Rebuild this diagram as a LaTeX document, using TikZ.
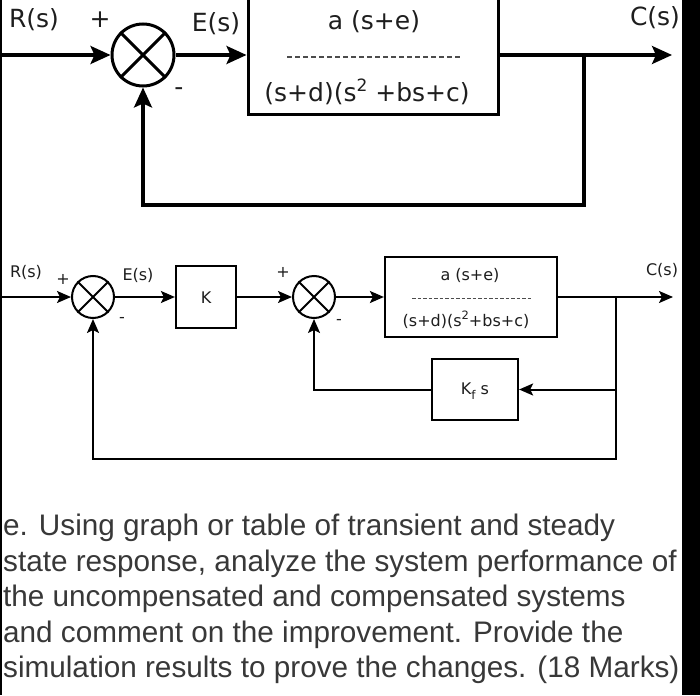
\documentclass[tikz,border=0pt]{standalone}
\usepackage{fontspec}
\setmainfont{DejaVu Sans}
\newfontfamily\qfont{Liberation Sans}
\usetikzlibrary{arrows.meta}
\definecolor{qtext}{HTML}{383838}
\definecolor{lab}{HTML}{1E1E1E}
\tikzset{
  bigsum/.style={circle, draw, line width=3pt, minimum size=62pt, inner sep=0pt},
  smallsum/.style={circle, draw, line width=2pt, minimum size=42pt, inner sep=0pt},
  bigwire/.style={line width=3.2pt, -{Stealth[length=20pt,width=18pt,inset=4pt]}},
  smallwire/.style={line width=2pt, -{Stealth[length=14pt,width=12pt,inset=3pt]}},
  bigbox/.style={draw, line width=3pt, inner sep=0pt},
  smallbox/.style={draw, line width=2.2pt, inner sep=0pt},
  biglab/.style={text=lab, font=\fontsize{25}{30}\selectfont, inner sep=0pt},
  smalllab/.style={text=lab, font=\fontsize{16}{19}\selectfont, inner sep=0pt},
  fracdash/.style={line width=1.1pt, dash pattern=on 5pt off 3pt, draw=black!70},
  qline/.style={anchor=base west, inner sep=0pt, text=qtext, font=\qfont\fontsize{29.7}{35}\selectfont}
}
\newcommand{\bigsq}{\raisebox{0.42em}{\fontsize{17}{17}\selectfont 2}}
\newcommand{\smallsq}{\raisebox{0.42em}{\fontsize{11.5}{12}\selectfont 2}}
\newcommand{\subf}{\raisebox{-0.3em}{\fontsize{12}{12}\selectfont f}}
\begin{document}
\begin{tikzpicture}[x=1pt, y=-1pt]
\useasboundingbox (0,0) rectangle (700,695);
\clip (0,0) rectangle (700,695);
\fill[white] (0,0) rectangle (700,695);
% side bars
\fill[black] (682,0) rectangle (700,695);
\fill[black] (0,0) rectangle (2,695);

% ---------- top diagram ----------
\coordinate (rin1) at (2,55);
\node[bigsum] (sum1) at (143,55) {};
\draw[line width=3pt] (sum1.north west) -- (sum1.south east) (sum1.north east) -- (sum1.south west);
\node[bigbox, minimum width=250pt, minimum height=130pt] (G1) at (373,50) {};
\node[biglab] (g1num) at (374,22) {a (s+e)};
\node[biglab] (g1den) at (367,92) {(s+d)(s\bigsq\ +bs+c)};
\coordinate (d1a) at (287,57);
\coordinate (d1b) at (461,57);
\draw[fracdash] (d1a) -- (d1b);
\coordinate (br1) at (584,55);
\coordinate (out1) at (672,55);
\coordinate (g1in) at (G1.west |- sum1.east);
\coordinate (g1out) at (G1.east |- sum1.east);
\draw[bigwire] (rin1) -- (sum1.west);
\draw[bigwire] (sum1.east) -- (g1in);
\draw[bigwire] (g1out) -- (out1);
\draw[bigwire] (br1) -- ++(0,150) -| (sum1.south);
\node[biglab] (R1) at (34,20) {R(s)};
\node[biglab] (p1) at (100,20) {+};
\node[biglab] (E1) at (216,24) {E(s)};
\node[biglab] (m1) at (179,92) {-};
\node[biglab] (C1) at (655,18) {C(s)};

% ---------- bottom diagram ----------
\coordinate (rin2) at (2,297);
\node[smallsum] (sum2) at (93,297) {};
\draw[line width=2pt] (sum2.north west) -- (sum2.south east) (sum2.north east) -- (sum2.south west);
\node[smallbox, minimum width=60pt, minimum height=62pt] (K) at (206,297) {};
\node[smalllab] (Kt) at (206,298) {K};
\node[smallsum] (sum3) at (314,297) {};
\draw[line width=2pt] (sum3.north west) -- (sum3.south east) (sum3.north east) -- (sum3.south west);
\node[smallbox, minimum width=172pt, minimum height=80pt] (G2) at (471,297) {};
\node[smalllab] (g2num) at (470,275) {a (s+e)};
\node[smalllab] (g2den) at (466,320) {(s+d)(s\smallsq+bs+c)};
\coordinate (d2a) at (412,298);
\coordinate (d2b) at (532,298);
\draw[fracdash, line width=0.8pt, dash pattern=on 3.5pt off 2pt] (d2a) -- (d2b);
\node[smallbox, minimum width=86pt, minimum height=61pt] (H) at (475,389.5) {};
\node[smalllab] (Ht) at (475,391) {K\subf\ s};
\coordinate (br2) at (616,297);
\coordinate (out2) at (673,297);
\draw[smallwire] (rin2) -- (sum2.west);
\draw[smallwire] (sum2.east) -- (K.west);
\draw[smallwire] (K.east) -- (sum3.west);
\draw[smallwire] (sum3.east) -- (G2.west);
\draw[smallwire] (G2.east) -- (out2);
\draw[smallwire] (br2) |- (H.east);
\draw[smallwire] (H.west) -| (sum3.south);
\draw[smallwire] (br2) -- ++(0,162) -| (sum2.south);
\node[smalllab] (R2) at (26,272) {R(s)};
\node[smalllab] (p2) at (63,279) {+};
\node[smalllab] (E2) at (138,275) {E(s)};
\node[smalllab] (m2) at (122,320) {-};
\node[smalllab] (p3) at (283,272) {+};
\node[smalllab] (m3) at (339,322) {-};
\node[smalllab] (C2) at (662,270) {C(s)};

% ---------- question text ----------
\node[qline] (q1) at (3,535) {e. Using graph or table of transient and steady};
\node[qline] (q2) at (3,571) {state response, analyze the system performance of};
\node[qline] (q3) at (3,606) {the uncompensated and compensated systems};
\node[qline] (q4) at (3,642) {and comment on the improvement. Provide the};
\node[qline] (q5) at (3,677) {simulation results to prove the changes. (18 Marks)};
\end{tikzpicture}
\end{document}
